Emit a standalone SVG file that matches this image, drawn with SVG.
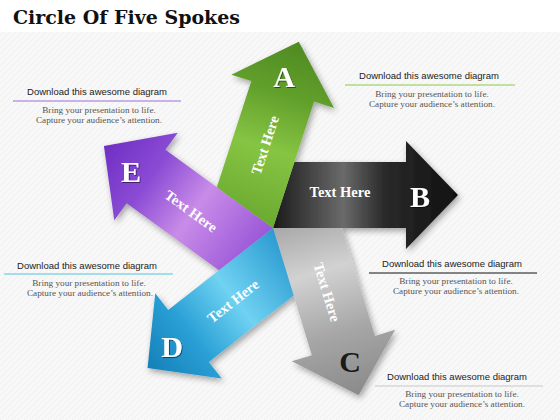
<svg xmlns="http://www.w3.org/2000/svg" width="560" height="420" viewBox="0 0 560 420">
  <defs>
    <pattern id="bgpat" width="6" height="6" patternUnits="userSpaceOnUse">
      <rect width="6" height="6" fill="#f8f8f8"/>
      <path d="M0,6 L6,0" stroke="#efefef" stroke-width="1"/>
    </pattern>
    <filter id="shadow" x="-20%" y="-20%" width="140%" height="140%">
      <feDropShadow dx="2" dy="3" stdDeviation="3" flood-color="#000" flood-opacity="0.35"/>
    </filter>
    <filter id="tshadow" x="-20%" y="-20%" width="140%" height="140%">
      <feDropShadow dx="1" dy="1" stdDeviation="0.6" flood-color="#000" flood-opacity="0.5"/>
    </filter>
    <linearGradient id="gGreen" gradientUnits="userSpaceOnUse" x1="0" y1="0" x2="185" y2="0">
      <stop offset="0" stop-color="#6aaa30"/>
      <stop offset="0.4" stop-color="#86c443"/>
      <stop offset="0.7" stop-color="#62a02c"/>
      <stop offset="1" stop-color="#4f8a22"/>
    </linearGradient>
    <linearGradient id="gBlack" gradientUnits="userSpaceOnUse" x1="0" y1="0" x2="185" y2="0">
      <stop offset="0" stop-color="#1a1a1a"/>
      <stop offset="0.38" stop-color="#6a6a6a"/>
      <stop offset="0.6" stop-color="#2a2a2a"/>
      <stop offset="1" stop-color="#101010"/>
    </linearGradient>
    <linearGradient id="gGray" gradientUnits="userSpaceOnUse" x1="0" y1="0" x2="185" y2="0">
      <stop offset="0" stop-color="#a8a8a8"/>
      <stop offset="0.3" stop-color="#d2d2d2"/>
      <stop offset="0.65" stop-color="#a6a6a6"/>
      <stop offset="1" stop-color="#8a8a8a"/>
    </linearGradient>
    <linearGradient id="gBlue" gradientUnits="userSpaceOnUse" x1="0" y1="0" x2="185" y2="0">
      <stop offset="0" stop-color="#2a9ad0"/>
      <stop offset="0.4" stop-color="#70d2f2"/>
      <stop offset="0.7" stop-color="#2aa0d6"/>
      <stop offset="1" stop-color="#1580b8"/>
    </linearGradient>
    <linearGradient id="gPurple" gradientUnits="userSpaceOnUse" x1="0" y1="0" x2="185" y2="0">
      <stop offset="0" stop-color="#9a56d8"/>
      <stop offset="0.4" stop-color="#c88ce8"/>
      <stop offset="0.7" stop-color="#8a4ad4"/>
      <stop offset="1" stop-color="#6f2fc4"/>
    </linearGradient>
    <style>
      .title { font-family: "DejaVu Serif", "Liberation Serif", serif; font-weight: bold; font-size: 19px; fill: #111; }
      .head { font-family: "Liberation Sans", Arial, sans-serif; font-size: 9.5px; fill: #222; text-anchor: middle; }
      .desc { font-family: "Liberation Serif", "Times New Roman", serif; font-size: 9.2px; fill: #555; text-anchor: middle; }
      .lbl { font-family: "Liberation Serif", "Times New Roman", serif; font-weight: bold; font-size: 14.5px; fill: #fff; text-anchor: middle; }
      .big { font-family: "Liberation Serif", "Times New Roman", serif; font-weight: bold; font-size: 30px; fill: #fff; text-anchor: middle; }
    </style>
  </defs>

  <rect x="0" y="0" width="560" height="420" fill="url(#bgpat)"/>
  <rect x="0" y="0" width="560" height="32" fill="#ffffff"/>

  <text class="title" x="13" y="24" textLength="227" lengthAdjust="spacingAndGlyphs">Circle Of Five Spokes</text>

  <g id="connectors"></g>

  <g id="arrows" filter="url(#shadow)">
    <g id="arrow-b" transform="translate(273,228) rotate(0)">
      <polygon points="21.4,-66 0,0 133,0 133,21 185,-33 133,-87 133,-66" fill="url(#gBlack)"/>
    </g>
    <g id="arrow-c" transform="translate(273,228) rotate(73)">
      <polygon points="20.2,-66 0,0 133,0 133,21 185,-33 133,-87 133,-66" fill="url(#gGray)"/>
    </g>
    <g id="arrow-d" transform="translate(273,228) rotate(142)">
      <polygon points="25.3,-66 0,0 133,0 133,21 185,-33 133,-87 133,-66" fill="url(#gBlue)"/>
    </g>
    <g id="arrow-e" transform="translate(273,228) rotate(216)">
      <polygon points="18.9,-66 0,0 133,0 133,21 185,-33 133,-87 133,-66" fill="url(#gPurple)"/>
    </g>
    <g id="arrow-a" transform="translate(273,228) rotate(-72)">
      <polygon points="21.4,-66 0,0 133,0 133,21 185,-33 133,-87 133,-66" fill="url(#gGreen)"/>
    </g>
  </g>

  <g id="labels-a">
    <text class="lbl" x="265" y="150" transform="rotate(-72,265,145)">Text Here</text>
    <text class="big" x="284" y="87" filter="url(#tshadow)">A</text>
  </g>
  <g id="labels-b">
    <text class="lbl" x="340" y="197">Text Here</text>
    <text class="big" x="420" y="207" filter="url(#tshadow)">B</text>
  </g>
  <g id="labels-c">
    <text class="lbl" x="327" y="297" transform="rotate(73,327,292)">Text Here</text>
    <text class="big" x="350" y="372" style="fill:#1a1a1a">C</text>
  </g>
  <g id="labels-d">
    <text class="lbl" x="233" y="306" transform="rotate(-38,233,301)">Text Here</text>
    <text class="big" x="172" y="357" filter="url(#tshadow)">D</text>
  </g>
  <g id="labels-e">
    <text class="lbl" x="191" y="216" transform="rotate(36,191,211)">Text Here</text>
    <text class="big" x="131" y="182" filter="url(#tshadow)">E</text>
  </g>

  <g id="note-e">
    <text class="head" x="97" y="95">Download this awesome diagram</text>
    <line x1="13" y1="101" x2="181" y2="101" stroke="#9b6fd6" stroke-width="1.2"/>
    <text class="desc" x="99" y="113">Bring your presentation to life.</text>
    <text class="desc" x="99" y="123">Capture your audience’s attention.</text>
  </g>
  <g id="note-a">
    <text class="head" x="429" y="79">Download this awesome diagram</text>
    <line x1="345" y1="85" x2="515" y2="85" stroke="#8cc84a" stroke-width="1.2"/>
    <text class="desc" x="432" y="97">Bring your presentation to life.</text>
    <text class="desc" x="432" y="107">Capture your audience’s attention.</text>
  </g>
  <g id="note-d">
    <text class="head" x="87" y="269">Download this awesome diagram</text>
    <line x1="4" y1="274" x2="173" y2="274" stroke="#4ec3e0" stroke-width="1.2"/>
    <text class="desc" x="89" y="286">Bring your presentation to life.</text>
    <text class="desc" x="90" y="296">Capture your audience’s attention.</text>
  </g>
  <g id="note-b">
    <text class="head" x="452" y="267">Download this awesome diagram</text>
    <line x1="369" y1="273" x2="537" y2="273" stroke="#111" stroke-width="1.2"/>
    <text class="desc" x="456" y="284">Bring your presentation to life.</text>
    <text class="desc" x="456" y="294">Capture your audience’s attention.</text>
  </g>
  <g id="note-c">
    <text class="head" x="457" y="380">Download this awesome diagram</text>
    <line x1="375" y1="386" x2="543" y2="386" stroke="#c8c8c8" stroke-width="1.2"/>
    <text class="desc" x="462" y="397">Bring your presentation to life.</text>
    <text class="desc" x="462" y="407">Capture your audience’s attention.</text>
  </g>
</svg>
